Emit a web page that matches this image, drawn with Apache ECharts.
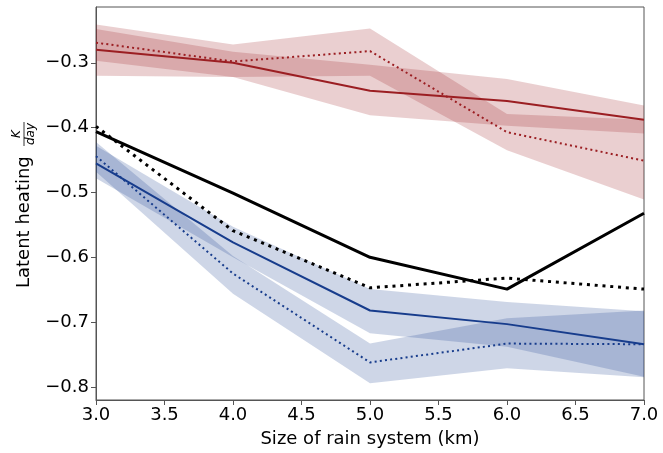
<!DOCTYPE html>
<html>
<head>
<meta charset="utf-8">
<script src="https://cdn.jsdelivr.net/npm/echarts@6/dist/echarts.min.js"></script>
<style>html,body{margin:0;padding:0;background:#fff}#c{width:663px;height:453px}</style>
</head>
<body>
<div id="c"></div>
<script>
var xs = [3, 4, 5, 6, 7];
var xTicks = [3.0, 3.5, 4.0, 4.5, 5.0, 5.5, 6.0, 6.5, 7.0];
var yTicks = [-0.8, -0.7, -0.6, -0.5, -0.4, -0.3];

var redSolid      = [-0.280, -0.300, -0.343, -0.359, -0.388];
var redSolidHigh  = [-0.248, -0.283, -0.303, -0.325, -0.366];
var redSolidLow   = [-0.320, -0.322, -0.381, -0.397, -0.409];
var redDotted     = [-0.269, -0.298, -0.282, -0.407, -0.451];
var redDottedHigh = [-0.241, -0.272, -0.247, -0.379, -0.388];
var redDottedLow  = [-0.297, -0.322, -0.320, -0.435, -0.511];

var blackSolid    = [-0.406, -0.501, -0.600, -0.649, -0.532];
var blackDotted   = [-0.398, -0.559, -0.647, -0.632, -0.649];

var blueSolid      = [-0.455, -0.577, -0.682, -0.703, -0.734];
var blueSolidHigh  = [-0.428, -0.553, -0.649, -0.669, -0.683];
var blueSolidLow   = [-0.478, -0.600, -0.717, -0.738, -0.784];
var blueDotted     = [-0.444, -0.625, -0.762, -0.733, -0.734];
var blueDottedHigh = [-0.422, -0.598, -0.733, -0.694, -0.682];
var blueDottedLow  = [-0.468, -0.656, -0.794, -0.771, -0.785];

var RED = '#9b1e22', BLUE = '#173c8c';
var RED_FILL = 'rgba(155,30,35,0.21)', BLUE_FILL = 'rgba(23,60,140,0.21)';
var FONT = 'DejaVu Sans';

function pairs(v) { return xs.map(function (x, i) { return [x, v[i]]; }); }

function band(low, high, fill) {
  return {
    type: 'custom', silent: true, z: 1,
    data: xs.map(function (x, i) { return [x, low[i], high[i]]; }),
    encode: { x: 0, y: [1, 2] },
    renderItem: function (params, api) {
      if (params.dataIndex !== 0) return null;
      var pts = [];
      for (var i = 0; i < xs.length; i++) pts.push(api.coord([xs[i], high[i]]));
      for (var j = xs.length - 1; j >= 0; j--) pts.push(api.coord([xs[j], low[j]]));
      return { type: 'polygon', shape: { points: pts }, style: { fill: fill } };
    }
  };
}

function line(v, color, width, dotted) {
  return {
    type: 'line', data: pairs(v), symbol: 'none', z: 3, silent: true,
    lineStyle: { color: color, width: width, type: dotted ? [width, width * 1.6] : 'solid', cap: 'butt' }
  };
}

var chart = echarts.init(document.getElementById('c'), null, { renderer: 'canvas' });
chart.setOption({
  animation: false,
  backgroundColor: '#fff',
  grid: { left: 96, right: 19, top: 7, bottom: 49, show: true, borderColor: '#555', borderWidth: 1, backgroundColor: 'transparent' },
  xAxis: {
    type: 'value', min: 3, max: 7, interval: 0.5,
    name: 'Size of rain system (km)', nameLocation: 'middle', nameGap: 30,
    nameTextStyle: { fontFamily: FONT, fontSize: 18, color: '#000' },
    axisLine: { show: true, onZero: false, lineStyle: { color: '#555', width: 1 } },
    axisTick: { show: true, length: 5, lineStyle: { color: '#555' } },
    axisLabel: { fontFamily: FONT, fontSize: 18, color: '#000', margin: 6,
      customValues: xTicks, formatter: function (v) { return v.toFixed(1); } },
    splitLine: { show: false }
  },
  yAxis: {
    type: 'value', min: -0.82, max: -0.214,
    axisLine: { show: true, onZero: false, lineStyle: { color: '#555', width: 1 } },
    axisTick: { show: true, length: 5, lineStyle: { color: '#555' }, customValues: yTicks },
    axisLabel: { fontFamily: FONT, fontSize: 18, color: '#000', margin: 7,
      customValues: yTicks, formatter: function (v) { return '\u2212' + Math.abs(v).toFixed(1); } },
    splitLine: { show: false }
  },
  graphic: [{
    type: 'group', x: 24, y: 205, rotation: Math.PI / 2,
    children: [
      { type: 'text', x: -83, y: 0, style: { text: 'Latent heating', font: '18px "DejaVu Sans"', fill: '#000', textAlign: 'left', textVerticalAlign: 'middle' } },
      { type: 'text', x: 71, y: -7, style: { text: 'K', font: 'italic 12px "DejaVu Sans"', fill: '#000', textAlign: 'center', textVerticalAlign: 'middle' } },
      { type: 'line', shape: { x1: 59, y1: 0, x2: 83, y2: 0 }, style: { stroke: '#000', lineWidth: 0.8 } },
      { type: 'text', x: 71, y: 7, style: { text: 'day', font: 'italic 12px "DejaVu Sans"', fill: '#000', textAlign: 'center', textVerticalAlign: 'middle' } }
    ]
  }],
  series: [
    band(redSolidLow, redSolidHigh, RED_FILL),
    band(redDottedLow, redDottedHigh, RED_FILL),
    band(blueSolidLow, blueSolidHigh, BLUE_FILL),
    band(blueDottedLow, blueDottedHigh, BLUE_FILL),
    line(redSolid, RED, 2, false),
    line(redDotted, RED, 2, true),
    line(blackSolid, '#000', 3, false),
    line(blackDotted, '#000', 3, true),
    line(blueSolid, BLUE, 2, false),
    line(blueDotted, BLUE, 2, true)
  ]
});
</script>
</body>
</html>
